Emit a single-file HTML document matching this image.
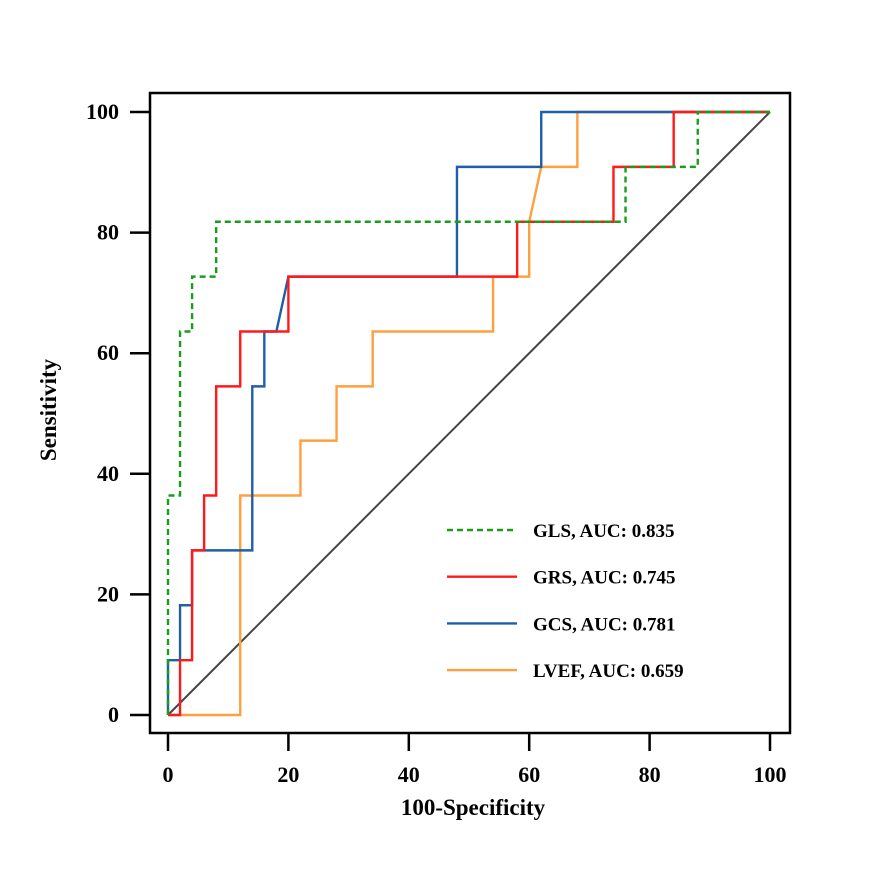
<!DOCTYPE html>
<html><head><meta charset="utf-8"><style>
body{margin:0;background:#fff}
text{font-family:"Liberation Serif",serif;font-weight:bold;fill:#000}
</style></head><body>
<svg id="c" width="879" height="877"></svg>
<script>
const ticks=[0,20,40,60,80,100];
const glsX=[0,0,2,2,4,4,8,8,76,76,88,88,100];
const glsY=[0,36.4,36.4,63.6,63.6,72.7,72.7,81.8,81.8,90.9,90.9,100,100];
const grsX=[0,2,2,4,4,6,6,8,8,12,12,20,20,58,58,74,74,84,84,100];
const grsY=[0,0,9.09,9.09,27.3,27.3,36.4,36.4,54.5,54.5,63.6,63.6,72.7,72.7,81.8,81.8,90.9,90.9,100,100];
const gcsX=[0,0,2,2,4,4,14,14,16,16,18,20,48,48,62,62,100];
const gcsY=[0,9.09,9.09,18.2,18.2,27.3,27.3,54.5,54.5,63.6,63.6,72.7,72.7,90.9,90.9,100,100];
const lvefX=[0,12,12,22,22,28,28,34,34,54,54,60,60,62,68,68,100];
const lvefY=[0,0,36.4,36.4,45.5,45.5,54.5,54.5,63.6,63.6,72.7,72.7,81.8,90.9,90.9,100,100];
const labels=["GLS, AUC: 0.835","GRS, AUC: 0.745","GCS, AUC: 0.781","LVEF, AUC: 0.659"];
const colors=["#1a9e1a","#ff1a1a","#1f5fa8","#ffa040"];
const names=["gls","grs","gcs","lvef"];
const X=v=>168+v*6.02, Y=v=>715-v*6.03;
const svg=document.getElementById('c');const NS="http://www.w3.org/2000/svg";
function mk(t,a,p){const e=document.createElementNS(NS,t);for(const k in a)e.setAttribute(k,a[k]);(p||svg).appendChild(e);return e;}
let e=mk('rect',{x:150,y:93,width:640,height:640,fill:'none',stroke:'#000','stroke-width':2.5});


ticks.forEach(t=>{
 let l=mk('line',{x1:X(t),x2:X(t),y1:733,y2:751,stroke:'#000','stroke-width':2.5});
 
 
 let tx=mk('text',{x:X(t),y:782,'text-anchor':'middle','font-size':22});tx.textContent=t;
 
 
 l=mk('line',{x1:130,x2:150,y1:Y(t),y2:Y(t),stroke:'#000','stroke-width':2.5});
 
 
 tx=mk('text',{x:119,y:Y(t)+7,'text-anchor':'end','font-size':22});tx.textContent=t;
 
 
});
e=mk('line',{x1:X(0),y1:Y(0),x2:X(100),y2:Y(100),stroke:'#444','stroke-width':2});


const series=[[glsX,glsY],[grsX,grsY],[gcsX,gcsY],[lvefX,lvefY]];
[3,2,1,0].forEach(i=>{
 const [xs,ys]=series[i];
 const p=mk('polyline',{points:xs.map((x,j)=>X(x)+','+Y(ys[j])).join(' '),fill:'none',stroke:colors[i],'stroke-width':2.4,'stroke-dasharray':i==0?'6,4':'none'});
 
 
});
labels.forEach((s,i)=>{
 const y=530+i*46.7;
 const l=mk('line',{x1:447,x2:517,y1:y,y2:y,stroke:colors[i],'stroke-width':2.4,'stroke-dasharray':i==0?'6,4':'none'});
 
 
 const t=mk('text',{x:533,y:y+7,'font-size':19});t.textContent=s;
 
 
});
e=mk('text',{x:473,y:815,'text-anchor':'middle','font-size':23});e.textContent='100-Specificity';


e=mk('text',{x:0,y:0,'text-anchor':'middle','font-size':23,transform:'translate(56,410) rotate(-90)'});e.textContent='Sensitivity';


</script>
</body></html>
